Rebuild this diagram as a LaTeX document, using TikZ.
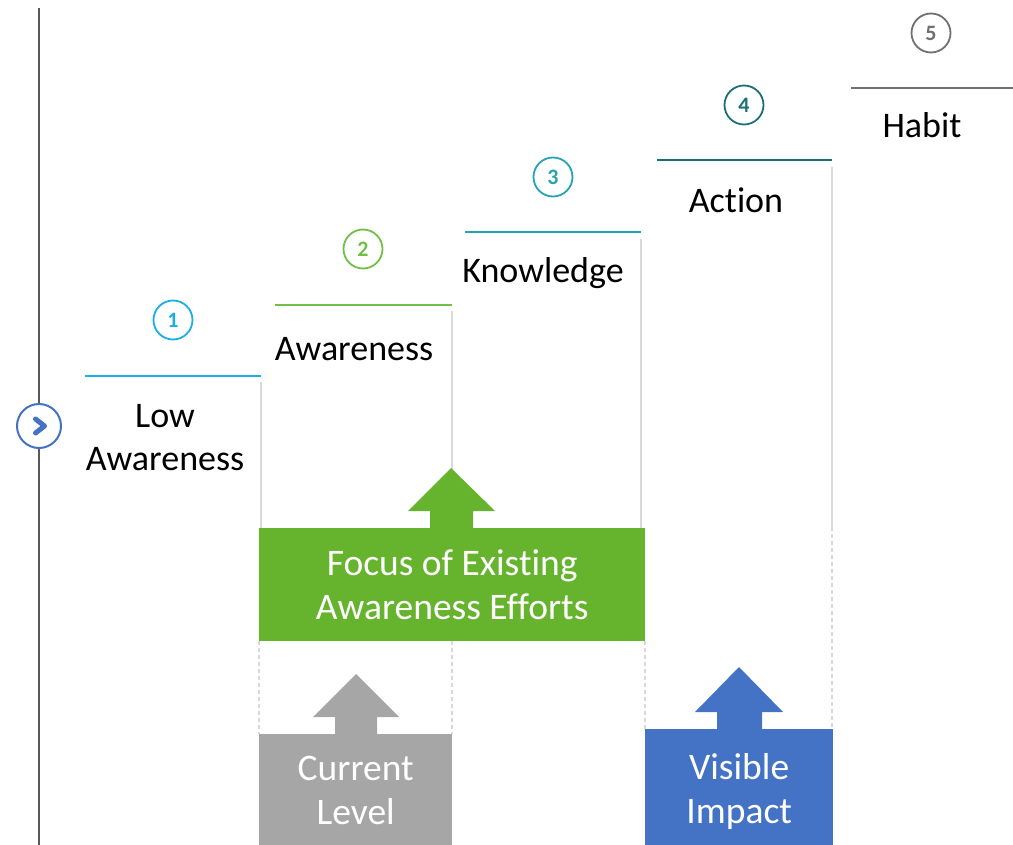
\documentclass[tikz,border=0pt]{standalone}
\usepackage{fontspec}
\setmainfont{Carlito}[Ligatures=NoCommon]
\definecolor{cOne}{HTML}{1CADE4}
\definecolor{cTwo}{HTML}{71BF44}
\definecolor{cThree}{HTML}{25A3B2}
\definecolor{cFour}{HTML}{1D6F76}
\definecolor{cFive}{HTML}{707070}
\definecolor{axisgray}{HTML}{595959}
\definecolor{guidegray}{HTML}{D9D9D9}
\definecolor{focusgreen}{HTML}{66B32E}
\definecolor{levelgray}{HTML}{A6A6A6}
\definecolor{impactblue}{HTML}{4472C4}
\begin{document}
\begin{tikzpicture}[x=1pt,y=-1pt,
  stepline/.style={line width=2.6pt},
  numcirc/.style={circle, draw, line width=1.8pt, minimum size=39pt, inner sep=0pt,
    font=\fontsize{22}{22}\selectfont\bfseries},
  steplabel/.style={font=\fontsize{36}{43}\selectfont, inner sep=0pt, align=center},
  guide/.style={draw=guidegray, line width=1.3pt},
  dguide/.style={draw=guidegray, line width=1.3pt, dash pattern=on 4pt off 3pt},
  blockbox/.style={inner sep=0pt, text=white, align=center,
    font=\fontsize{37.5}{44}\selectfont},
]
\useasboundingbox (0,0) rectangle (1013,845);

% left axis
\coordinate (axtop) at (39,8);
\coordinate (axbot) at (39,845);
\draw[axisgray, line width=1.8pt] (axtop) -- (axbot);
\node[circle, draw=impactblue, fill=white, line width=2pt, minimum size=44pt, inner sep=0pt] (chev) at (39,426) {};
\draw[impactblue, line width=5pt, line cap=round, line join=round]
  ([shift={(-3.5,-7)}]chev.center) -- ([shift={(5.5,0)}]chev.center) -- ([shift={(-3.5,7)}]chev.center);

% step coordinates
\coordinate (s1a) at (85,376);  \coordinate (s1b) at (261,376);
\coordinate (s2a) at (275,305); \coordinate (s2b) at (452,305);
\coordinate (s3a) at (465,232); \coordinate (s3b) at (641,232);
\coordinate (s4a) at (657,160); \coordinate (s4b) at (832,160);
\coordinate (s5a) at (851,88);  \coordinate (s5b) at (1013,88);

% guides (solid)
\coordinate (g1t) at (261,382); \coordinate (g1b) at (261,528);
\coordinate (g2t) at (452,311); \coordinate (g2b) at (452,470);
\coordinate (g3t) at (641,239); \coordinate (g3b) at (641,528);
\coordinate (g4t) at (832,167); \coordinate (g4b) at (832,527);
\draw[guide] (g1t) -- (g1b);
\draw[guide] (g2t) -- (g2b);
\draw[guide] (g3t) -- (g3b);
\draw[guide] (g4t) -- (g4b);

% dashed guides
\coordinate (d1t) at (259,641); \coordinate (d1b) at (259,734);
\coordinate (d2t) at (452,641); \coordinate (d2b) at (452,734);
\coordinate (d3t) at (645,641); \coordinate (d3b) at (645,729);
\coordinate (d4t) at (832,527); \coordinate (d4b) at (832,729);
\draw[dguide] (d1t) -- (d1b);
\draw[dguide] (d2t) -- (d2b);
\draw[dguide] (d3t) -- (d3b);
\draw[dguide] (d4t) -- (d4b);

% step lines
\draw[stepline, cOne] (s1a) -- (s1b);
\draw[stepline, cTwo] (s2a) -- (s2b);
\draw[stepline, cThree] (s3a) -- (s3b);
\draw[stepline, cFour] (s4a) -- (s4b);
\draw[stepline, cFive] (s5a) -- (s5b);

% numbers
\node[numcirc, draw=cOne, text=cOne] (n1) at (173,320) {1};
\node[numcirc, draw=cTwo, text=cTwo] (n2) at (363,249) {2};
\node[numcirc, draw=cThree, text=cThree] (n3) at (553,177) {3};
\node[numcirc, draw=cFour, text=cFour] (n4) at (744,105) {4};
\node[numcirc, draw=cFive, text=cFive] (n5) at (931,33) {5};

% step labels
\node[steplabel] (l1) at (165,438) {Low\\Awareness};
\node[steplabel, anchor=base] (l2) at (354,360) {Awareness};
\node[steplabel, anchor=base] (l3) at (543,283) {Knowledge};
\node[steplabel, anchor=base] (l4) at (736,213) {Action};
\node[steplabel, anchor=base] (l5) at (922,138) {Habit};

% arrows
\fill[focusgreen] (430,529) -- (430,511) -- (408,511) -- (451,468) -- (495,511) -- (473,511) -- (473,529) -- cycle;
\fill[levelgray] (335,735) -- (335,717) -- (313,717) -- (356,674) -- (399,717) -- (377,717) -- (377,735) -- cycle;
\fill[impactblue] (717,730) -- (717,712) -- (695,712) -- (739,667) -- (783,712) -- (762,712) -- (762,730) -- cycle;

% boxes (lower boxes run past the page edge, which crops them)
\node[blockbox, fill=focusgreen, minimum width=386pt, minimum height=113pt, anchor=north west] (focus) at (259,528)
  {Focus of Existing\\Awareness Efforts};
\node[blockbox, fill=levelgray, minimum width=193pt, minimum height=113pt, anchor=north west] (level) at (259,734)
  {Current\\Level};
\node[blockbox, fill=impactblue, minimum width=188pt, minimum height=124pt, anchor=north west] (impact) at (645,729)
  {Visible\\Impact};
\end{tikzpicture}
\end{document}
